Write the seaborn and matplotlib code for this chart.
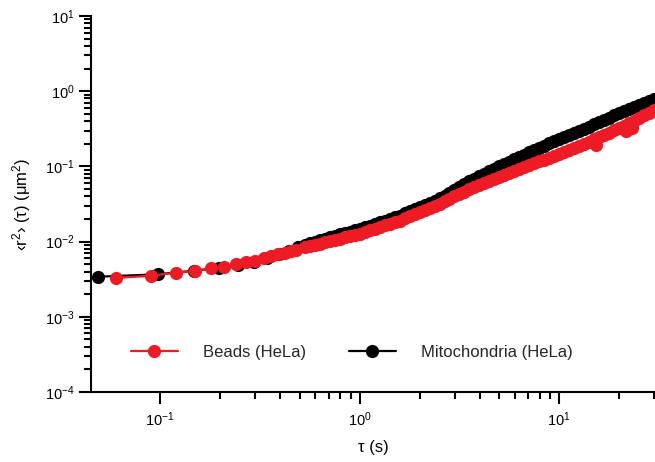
import matplotlib
matplotlib.use("Agg")
import matplotlib.pyplot as plt
import seaborn as sns
from matplotlib.ticker import FixedLocator, NullFormatter, LogFormatterSciNotation

# ---- data (tau in s, MSD in um^2) ----
tau_beads = [0.06, 0.09, 0.12, 0.15, 0.18, 0.21, 0.24, 0.27, 0.30, 0.33, 0.36, 0.39, 0.42, 0.45, 0.48,
             0.531, 0.562, 0.596, 0.631, 0.668, 0.708, 0.750, 0.794, 0.841, 0.891, 0.944, 1.0,
             1.059, 1.122, 1.189, 1.259, 1.334, 1.413, 1.496, 1.585, 1.679, 1.778, 1.884, 1.995,
             2.113, 2.239, 2.371, 2.512, 2.661, 2.818, 2.985, 3.162, 3.350, 3.548, 3.758, 3.981,
             4.217, 4.467, 4.732, 5.012, 5.309, 5.623, 5.957, 6.310, 6.683, 7.079, 7.499, 7.943,
             8.414, 8.913, 9.441, 10.0, 10.59, 11.22, 11.89, 12.59, 13.34, 14.13, 14.96,
             15.3,
             15.85, 16.79, 17.78, 18.84, 19.95, 21.13,
             21.6,
             22.39,
             23.2,
             23.71, 25.12, 26.61, 28.18, 29.85]
msd_beads = [0.00328, 0.00352, 0.00385, 0.0041, 0.0044, 0.00465, 0.0050, 0.0053, 0.00558, 0.00598,
             0.00638, 0.00675, 0.00711, 0.00747, 0.00782,
             0.00839, 0.00871, 0.00905, 0.0094, 0.00977, 0.01015, 0.01055, 0.01096, 0.01139, 0.01184,
             0.0123, 0.01278,
             0.01344, 0.01413, 0.01485, 0.01561, 0.01641, 0.01725, 0.01813, 0.01905, 0.02033, 0.02171,
             0.02317, 0.02474,
             0.02641, 0.02818, 0.03009, 0.03211, 0.03449, 0.03706, 0.03981, 0.04276, 0.04594, 0.04935,
             0.05248, 0.0558,
             0.05933, 0.0631, 0.06709, 0.07135, 0.07586, 0.08065, 0.08576, 0.0912, 0.09696, 0.1031,
             0.1096, 0.1166,
             0.1233, 0.1305, 0.138, 0.1461, 0.1545, 0.1634, 0.1746, 0.1866, 0.1995, 0.2132, 0.2279,
             0.1905,
             0.2435, 0.2617, 0.2811, 0.302, 0.3244, 0.3485,
             0.30,
             0.3745,
             0.32,
             0.4055, 0.4391, 0.4756, 0.5152, 0.5579]

tau_mito = [0.049, 0.098, 0.147, 0.196, 0.245, 0.294, 0.343, 0.392, 0.441, 0.49,
            0.531, 0.562, 0.596, 0.631, 0.668, 0.708, 0.750, 0.794, 0.841, 0.891, 0.944, 1.0,
            1.059, 1.122, 1.189, 1.259, 1.334, 1.413, 1.496, 1.585, 1.679, 1.778, 1.884, 1.995,
            2.113, 2.239, 2.371, 2.512, 2.661, 2.818, 2.985, 3.162, 3.350, 3.548, 3.758, 3.981,
            4.217, 4.467, 4.732, 5.012, 5.309, 5.623, 5.957, 6.310, 6.683, 7.079, 7.499, 7.943,
            8.414, 8.913, 9.441, 10.0, 10.59, 11.22, 11.89, 12.59, 13.34, 14.13, 14.96,
            15.85, 16.79, 17.78, 18.84, 19.95, 21.13, 22.39, 23.71, 25.12, 26.61, 28.18, 29.85]
msd_mito = [0.00341, 0.00368, 0.0041, 0.00445, 0.0049, 0.0053, 0.0060, 0.00675, 0.00745, 0.0084,
            0.0090, 0.00944, 0.0099, 0.01039, 0.0109, 0.01144, 0.012, 0.01259, 0.01309, 0.01359,
            0.01413, 0.01468,
            0.01546, 0.01628, 0.01715, 0.01806, 0.01902, 0.02003, 0.02109, 0.02222, 0.02371, 0.02531,
            0.02702, 0.02884,
            0.03078, 0.03286, 0.03508, 0.03744, 0.04085, 0.04456, 0.0486, 0.05302, 0.05784, 0.0631,
            0.06813, 0.07356,
            0.07943, 0.08576, 0.09261, 0.1, 0.1076, 0.1157, 0.1245, 0.1339, 0.1434, 0.1537,
            0.1647, 0.1764,
            0.1891, 0.2026, 0.2171, 0.2326, 0.2473, 0.263, 0.2797, 0.2973, 0.3174, 0.3389, 0.3618,
            0.3872, 0.4147, 0.4441, 0.4756, 0.5093, 0.5455, 0.5842, 0.6215, 0.6607, 0.7026, 0.747,
            0.7943]

series_labels = ["Beads (HeLa)", "Mitochondria (HeLa)"]
x_label = "τ (s)"
y_label = "‹r$^{2}$› (τ) (μm$^{2}$)"
x_major = [0.1, 1, 10]
x_minor = [0.2, 0.3, 0.4, 0.5, 0.6, 0.7, 0.8, 0.9, 2, 3, 4, 5, 6, 7, 8, 9, 20, 30]
y_major = [1e-4, 1e-3, 1e-2, 1e-1, 1, 10]
y_minor = [m * d for d in [1e-4, 1e-3, 1e-2, 1e-1, 1] for m in range(2, 10)]

assert len(tau_beads) == len(msd_beads), (len(tau_beads), len(msd_beads))
assert len(tau_mito) == len(msd_mito), (len(tau_mito), len(msd_mito))

RED = "#ED1C24"
BLACK = "#000000"

sns.set_theme(style="ticks")
plt.rcParams["font.family"] = ["Liberation Sans", "DejaVu Sans"]
plt.rcParams["mathtext.fontset"] = "custom"
plt.rcParams["mathtext.rm"] = "Liberation Sans"
plt.rcParams["mathtext.it"] = "Liberation Sans:italic"
plt.rcParams["mathtext.bf"] = "Liberation Sans:bold"

W, H = 655, 462
fig = plt.figure(figsize=(W / 100, H / 100), dpi=100)
ax = fig.add_axes([91 / W, 1 - 392 / H, 1 - 91 / W, (392 - 16) / H])

line_kw = dict(marker="o", markersize=9.5, markeredgewidth=0, linewidth=1.6,
               estimator=None, sort=False, clip_on=True)
sns.lineplot(x=tau_mito, y=msd_mito, ax=ax, color=BLACK, label=series_labels[1], **line_kw)
sns.lineplot(x=tau_beads, y=msd_beads, ax=ax, color=RED, label=series_labels[0], **line_kw)

ax.set_xscale("log")
ax.set_yscale("log")
ax.set_xlim(0.045, 30.2)
ax.set_ylim(1e-4, 10)

ax.xaxis.set_major_locator(FixedLocator(x_major))
ax.xaxis.set_minor_locator(FixedLocator(x_minor))
ax.yaxis.set_major_locator(FixedLocator(y_major))
ax.yaxis.set_minor_locator(FixedLocator(y_minor))
ax.xaxis.set_major_formatter(LogFormatterSciNotation())
ax.yaxis.set_major_formatter(LogFormatterSciNotation())
ax.xaxis.set_minor_formatter(NullFormatter())
ax.yaxis.set_minor_formatter(NullFormatter())

for s in ["top", "right"]:
    ax.spines[s].set_visible(False)
for s in ["left", "bottom"]:
    ax.spines[s].set_linewidth(1.5)
    ax.spines[s].set_color("black")

ax.tick_params(which="major", direction="out", length=8.5, width=1.5, color="black",
               labelsize=10.5, labelcolor="black")
ax.tick_params(axis="x", which="major", pad=5)
ax.tick_params(axis="y", which="major", pad=3)
ax.tick_params(which="minor", direction="out", length=5, width=1.5, color="black")
ax.grid(False)

ax.set_xlabel(x_label, fontsize=12, color="black", labelpad=8)
ax.set_ylabel(y_label, fontsize=12, color="black", labelpad=9)

handles, labels = ax.get_legend_handles_labels()
order = [labels.index(series_labels[0]), labels.index(series_labels[1])]
ax.legend([handles[i] for i in order], [labels[i] for i in order],
          loc="center left", bbox_to_anchor=(131 / W, 1 - 352 / H), bbox_transform=fig.transFigure,
          frameon=False, ncol=2, fontsize=12, handlelength=2.8, handletextpad=1.5,
          columnspacing=2.6, borderpad=0, borderaxespad=0)

fig.savefig("out.png", dpi=100)
